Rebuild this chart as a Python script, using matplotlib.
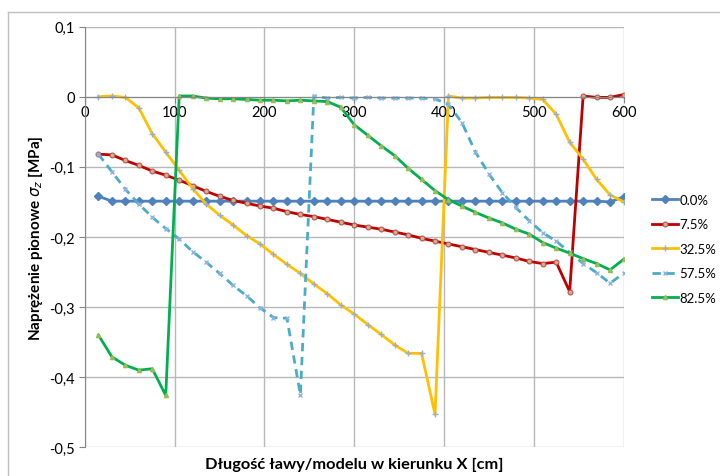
import numpy as np
import matplotlib
matplotlib.use('Agg')
import matplotlib.pyplot as plt
from matplotlib.lines import Line2D
from matplotlib.ticker import FuncFormatter

plt.rcParams['font.family'] = ['Lato', 'DejaVu Sans']
plt.rcParams['mathtext.fontset'] = 'dejavusans'

# odleglosc wzdluz lawy [cm]
x = np.arange(15, 601, 15)

s_00 = [-0.142] + [-0.149] * 37 + [-0.150, -0.143]

s_75 = [-0.082, -0.083, -0.091, -0.098, -0.106, -0.112, -0.119, -0.127,
        -0.135, -0.142, -0.148, -0.152, -0.156, -0.159, -0.164, -0.168,
        -0.171, -0.175, -0.179, -0.183, -0.186, -0.189, -0.193, -0.197,
        -0.202, -0.206, -0.210, -0.214, -0.218, -0.222, -0.226, -0.230,
        -0.235, -0.238, -0.236, -0.278, 0.001, -0.001, -0.001, 0.003]

s_325 = [0.000, 0.001, -0.001, -0.016, -0.053, -0.079, -0.105, -0.131,
         -0.153, -0.169, -0.183, -0.198, -0.210, -0.225, -0.239, -0.252,
         -0.267, -0.281, -0.297, -0.310, -0.325, -0.339, -0.354, -0.366,
         -0.366, -0.453, 0.001, -0.002, -0.002, -0.001, -0.001, -0.001,
         -0.002, -0.004, -0.025, -0.065, -0.089, -0.118, -0.140, -0.150]

s_575 = [-0.082, -0.107, -0.132, -0.153, -0.172, -0.188, -0.203, -0.221,
         -0.236, -0.252, -0.269, -0.284, -0.301, -0.315, -0.316, -0.425,
         0.001, -0.002, -0.001, -0.002, -0.001, -0.002, -0.002, -0.002,
         -0.002, -0.003, -0.011, -0.037, -0.079, -0.110, -0.137, -0.158,
         -0.177, -0.194, -0.206, -0.222, -0.238, -0.251, -0.266, -0.252]

s_825 = [-0.340, -0.371, -0.383, -0.390, -0.388, -0.426, 0.001, 0.001,
         -0.002, -0.003, -0.003, -0.004, -0.005, -0.005, -0.006, -0.005,
         -0.006, -0.007, -0.015, -0.040, -0.055, -0.070, -0.084, -0.102,
         -0.118, -0.134, -0.147, -0.156, -0.165, -0.173, -0.180, -0.189,
         -0.196, -0.208, -0.216, -0.223, -0.231, -0.238, -0.247, -0.232]

labels = ['0.0%', '7.5%', '32.5%', '57.5%', '82.5%']
x_ticks = [0, 100, 200, 300, 400, 500, 600]
y_ticks = [0.1, 0, -0.1, -0.2, -0.3, -0.4, -0.5]

fig = plt.figure(figsize=(7.2, 4.77), dpi=100)
ax = fig.add_axes([0.118, 0.0602, 0.748, 0.882])

ax.plot(x, s_00, color='#4F81BD', lw=2, marker='D', ms=4.5,
        label=labels[0])
ax.plot(x, s_75, color='#C00000', lw=2, marker='o', ms=3.5,
        mfc='#C4B58F', mec='#C0504D', mew=0.8, label=labels[1])
ax.plot(x, s_325, color='#FFC000', lw=2, marker='+', ms=5,
        mec='#9AAFC4', mew=1, label=labels[2])
ax.plot(x, s_575, color='#4BACC6', lw=2, ls=(0, (3, 2)), marker='x', ms=3.5,
        mec='#8DB3E2', mew=1, label=labels[3])
ax.plot(x, s_825, color='#00B050', lw=2, marker='^', ms=3,
        mfc='#9BBB59', mec='#9BBB59', label=labels[4])

ax.set_xlim(0, 600)
ax.set_ylim(-0.5, 0.1)
ax.set_xticks(x_ticks)
ax.set_yticks(y_ticks)
ax.yaxis.set_major_formatter(FuncFormatter(
    lambda v, p: '0' if abs(v) < 1e-9 else ('%.1f' % v).replace('.', ',')))

ax.grid(True, color='#B8B8B8', lw=1)
ax.set_axisbelow(True)
for s in ['top', 'right']:
    ax.spines[s].set_visible(False)
ax.spines['bottom'].set_position(('data', 0))
ax.spines['bottom'].set_color('#868686')
ax.spines['left'].set_color('#868686')
ax.tick_params(axis='both', colors='#868686', length=4, labelsize=10.5,
               labelcolor='black')
ax.tick_params(axis='x', pad=2)

ax.set_xlabel('Długość ławy/modelu w kierunku X [cm]', fontsize=11.8,
              fontweight='bold')
ax.xaxis.set_label_coords(0.5, -0.022)
ax.set_ylabel(r'Naprężenie pionowe $\sigma_z$ [MPa]', fontsize=11,
              fontweight='bold')
ax.yaxis.set_label_coords(-0.075, 0.5)

fig.legend(loc='upper left', bbox_to_anchor=(0.898, 0.603), frameon=False,
           fontsize=9.5, handlelength=2.0, handletextpad=0.1,
           labelspacing=0.95, borderaxespad=0)

# ramka wykresu
fig.add_artist(Line2D([0.0115, 1.0], [0.972, 0.972], color='#BFBFBF', lw=1))
fig.add_artist(Line2D([0.0115, 0.0115], [0.0, 0.972], color='#BFBFBF', lw=1))

plt.savefig('out.png', dpi=100)
